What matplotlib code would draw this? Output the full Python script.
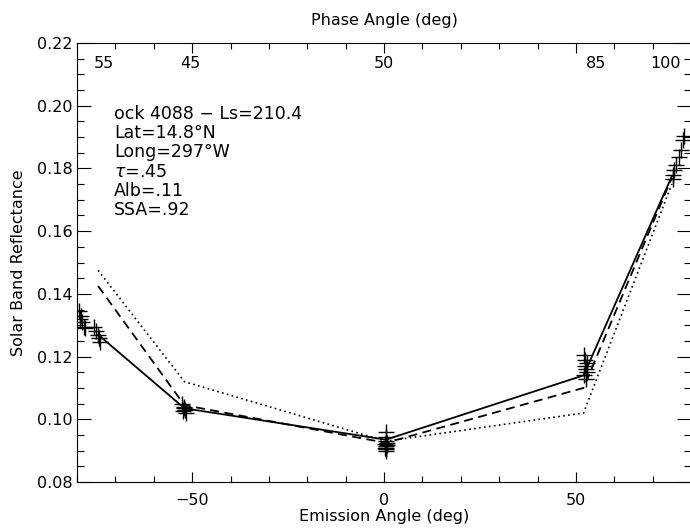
"""Solar band reflectance vs emission angle with model curves (IDL-style plot)."""

import matplotlib

matplotlib.use("Agg")
import matplotlib.pyplot as plt
from matplotlib.ticker import MultipleLocator

plt.rcParams["font.family"] = ["DejaVu Sans"]
plt.rcParams["mathtext.fontset"] = "dejavusans"

# observed points (emission angle, reflectance)
obs_x = [-79.5, -79.0, -79.3, -78.6, -78.2, -77.8,
         -75.6, -75.0, -74.5, -74.2, -74.0,
         -52.6, -52.2, -52.0, -51.8, -52.4, -51.6,
         0.6, 0.4, 0.5, 0.7, 0.3, 0.5, 0.6, 0.4, 0.5, 0.8, 0.2,
         52.0, 52.4, 52.8, 52.3, 52.6, 53.0, 52.2, 52.7,
         75.2, 75.4, 75.6, 76.0, 76.8, 77.4, 77.8, 78.2]
obs_y = [0.1345, 0.1330, 0.1320, 0.1310, 0.1295, 0.1290,
         0.1295, 0.1280, 0.1270, 0.1260, 0.1245,
         0.1050, 0.1040, 0.1035, 0.1030, 0.1025, 0.1020,
         0.0960, 0.0945, 0.0930, 0.0925, 0.0920, 0.0915, 0.0910, 0.0905, 0.0900,
         0.0918, 0.0908,
         0.1205, 0.1190, 0.1180, 0.1170, 0.1160, 0.1150, 0.1140, 0.1130,
         0.1765, 0.1780, 0.1795, 0.1810, 0.1835, 0.1860, 0.1890, 0.1905]

# model curves
model_x = [-74.5, -52.0, 0.5, 52.0, 75.0]
model_solid = [0.1270, 0.1035, 0.0935, 0.1140, 0.1775]
model_dashed = [0.1425, 0.1045, 0.0925, 0.1100, 0.1770]
model_dotted = [0.1475, 0.1120, 0.0930, 0.1020, 0.1750]

# phase angle labels along the top
phase_x = [-73.0, -50.5, 0.0, 55.3, 73.4]
phase_labels = ["55", "45", "50", "85", "100"]

info_lines = ["ock 4088 \u2212 Ls=210.4", "Lat=14.8\u00b0N", "Long=297\u00b0W",
              r"$\tau$=.45", "Alb=.11", "SSA=.92"]
info_y = [0.1975, 0.1913, 0.1853, 0.1790, 0.1728, 0.1666]


def main() -> None:
    fig = plt.figure(figsize=(6.9, 5.29), dpi=100)
    ax = fig.add_axes([77 / 690, 1 - 482 / 529, 614 / 690, 439 / 529])

    ax.plot(model_x, model_solid, color="black", lw=1.3, ls="-")
    ax.plot(model_x, model_dashed, color="black", lw=1.3, ls=(0, (5, 3)))
    ax.plot(model_x, model_dotted, color="black", lw=1.2, ls=(0, (1, 2)))
    ax.plot(obs_x, obs_y, ls="none", marker="+", ms=11, mew=1.0, color="black")

    ax.set_xlim(-80, 80)
    ax.set_ylim(0.08, 0.22)
    ax.xaxis.set_major_locator(MultipleLocator(50))
    ax.xaxis.set_minor_locator(MultipleLocator(10))
    ax.yaxis.set_major_locator(MultipleLocator(0.02))
    ax.yaxis.set_minor_locator(MultipleLocator(0.005))
    ax.yaxis.set_major_formatter(plt.FuncFormatter(lambda v, _: f"{v:.2f}"))
    ax.xaxis.set_major_formatter(plt.FuncFormatter(lambda v, _: f"{v:.0f}".replace("-", "\u2212")))
    ax.tick_params(which="both", direction="in", top=True, right=True,
                   labelsize=11.5, color="black", width=0.8)
    ax.tick_params(axis="y", which="major", length=10, pad=3)
    ax.tick_params(axis="y", which="minor", length=5)
    ax.tick_params(axis="x", which="major", length=7, pad=8)
    ax.tick_params(axis="x", which="minor", length=4)
    for spine in ax.spines.values():
        spine.set_linewidth(0.8)

    ax.set_xlabel("Emission Angle (deg)", fontsize=11.5, labelpad=1)
    ax.set_ylabel("Solar Band Reflectance", fontsize=11.5, labelpad=8)
    ax.set_title("Phase Angle (deg)", fontsize=11.5, pad=13)

    for x, lab in zip(phase_x, phase_labels):
        ax.text(x, 0.2135, lab, ha="center", va="center", fontsize=11.5)
    for y, line in zip(info_y, info_lines):
        ax.text(-70.3, y, line, ha="left", va="center", fontsize=12.5)

    fig.savefig("out.png", dpi=100)


if __name__ == "__main__":
    main()
